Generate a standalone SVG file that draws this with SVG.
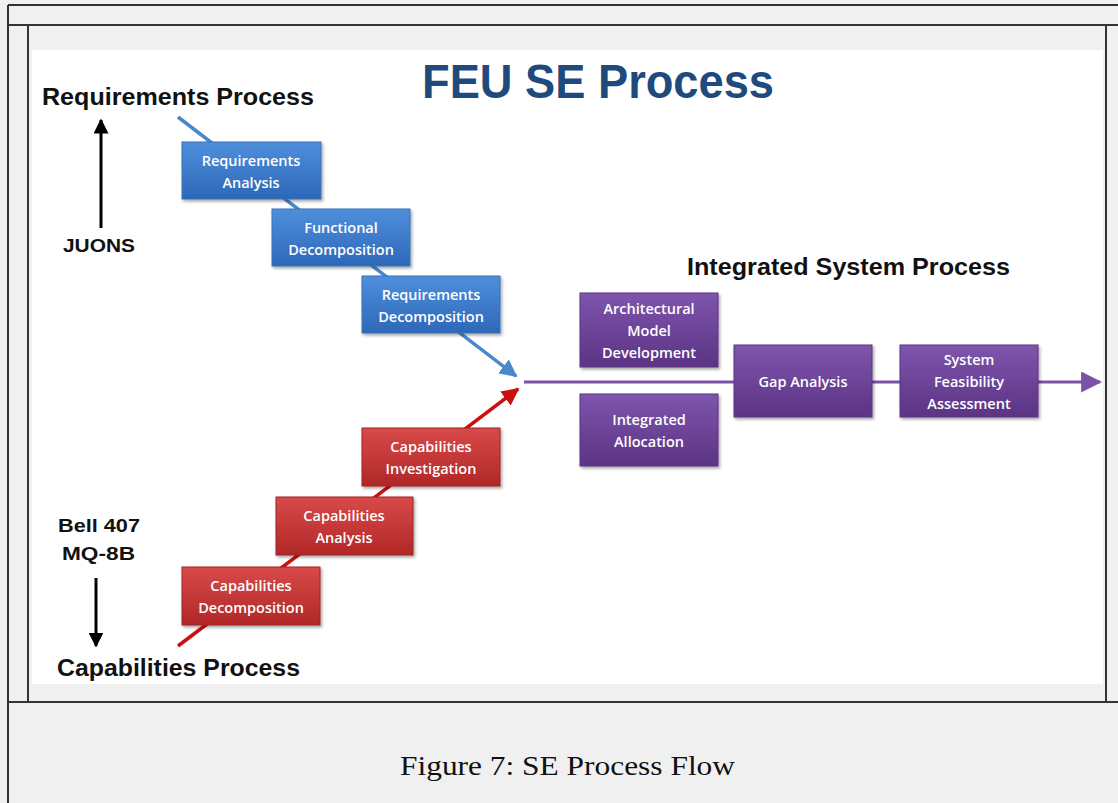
<svg xmlns="http://www.w3.org/2000/svg" width="1118" height="803" viewBox="0 0 1118 803">
<defs>
<linearGradient id="gBlue" x1="0" y1="0" x2="0" y2="1"><stop offset="0" stop-color="#4f8fdc"/><stop offset="1" stop-color="#2d68b8"/></linearGradient>
<linearGradient id="gRed" x1="0" y1="0" x2="0" y2="1"><stop offset="0" stop-color="#d94a4a"/><stop offset="1" stop-color="#b02727"/></linearGradient>
<linearGradient id="gPur" x1="0" y1="0" x2="0" y2="1"><stop offset="0" stop-color="#7e55ad"/><stop offset="1" stop-color="#5c3384"/></linearGradient>
<filter id="sh" x="-10%" y="-10%" width="125%" height="130%"><feDropShadow dx="1.5" dy="2" stdDeviation="1.5" flood-color="#000" flood-opacity="0.35"/></filter>
<marker id="mBlue" viewBox="0 0 10 10" refX="9" refY="5" markerWidth="5" markerHeight="5" orient="auto" markerUnits="strokeWidth"><path d="M0,0 L10,5 L0,10 z" fill="#4a88cc"/></marker>
<marker id="mRed" viewBox="0 0 10 10" refX="9" refY="5" markerWidth="5" markerHeight="5" orient="auto" markerUnits="strokeWidth"><path d="M0,0 L10,5 L0,10 z" fill="#cc1010"/></marker>
<marker id="mPur" viewBox="0 0 10 10" refX="9" refY="5" markerWidth="7" markerHeight="7" orient="auto" markerUnits="strokeWidth"><path d="M0,0 L10,5 L0,10 z" fill="#7a52a8"/></marker>
<marker id="mBlk" viewBox="0 0 10 10" refX="9" refY="5" markerWidth="5" markerHeight="5" orient="auto" markerUnits="strokeWidth"><path d="M0,0 L10,5 L0,10 z" fill="#000"/></marker>
</defs>
<style>
.frame{stroke:#333;stroke-width:2;fill:none}
.lbl{font-family:"Liberation Sans",Arial,sans-serif;font-weight:bold;fill:#111}
.box{stroke-width:1;filter:url(#sh)}
.bt{font-family:"Open Sans","Liberation Sans",sans-serif;font-size:14.5px;font-weight:600;fill:#fff;text-anchor:middle}
.cap{font-family:"Liberation Serif","Times New Roman",serif;font-size:28px;fill:#111}
</style>
<rect x="0" y="0" width="1118" height="803" fill="#f0f0f0"/>
<rect x="32" y="50" width="1071" height="634" fill="#ffffff"/>
<g id="frame">
<path class="frame" d="M8,5 H1118 M8,25 H1118 M8,5 V803 M28,25 V702 M1106,25 V702 M8,702 H1118"/>
</g>
<text x="598" y="98" font-family="Liberation Sans,Arial,sans-serif" font-weight="bold" font-size="48" fill="#1f4a7e" text-anchor="middle" textLength="352" lengthAdjust="spacingAndGlyphs">FEU SE Process</text>
<text class="lbl" x="42" y="105" font-size="23" textLength="272" lengthAdjust="spacingAndGlyphs">Requirements Process</text>
<text class="lbl" x="687" y="275" font-size="23" textLength="323" lengthAdjust="spacingAndGlyphs">Integrated System Process</text>
<text class="lbl" x="63" y="252" font-size="19" textLength="72" lengthAdjust="spacingAndGlyphs">JUONS</text>
<text class="lbl" x="58" y="532" font-size="19" textLength="82" lengthAdjust="spacingAndGlyphs">Bell 407</text>
<text class="lbl" x="62" y="560" font-size="19" textLength="73" lengthAdjust="spacingAndGlyphs">MQ-8B</text>
<text class="lbl" x="57" y="676" font-size="23" textLength="243" lengthAdjust="spacingAndGlyphs">Capabilities Process</text>
<g id="connectors">
<line x1="101" y1="228" x2="101" y2="120" stroke="#000" stroke-width="3" marker-end="url(#mBlk)"/>
<line x1="96" y1="578" x2="96" y2="646" stroke="#000" stroke-width="3" marker-end="url(#mBlk)"/>
<line x1="178" y1="117" x2="516" y2="376" stroke="#4a88cc" stroke-width="3.5" marker-end="url(#mBlue)"/>
<line x1="178" y1="646" x2="518" y2="389" stroke="#cc1010" stroke-width="3.5" marker-end="url(#mRed)"/>
<line x1="524" y1="382" x2="1100" y2="382" stroke="#7a52a8" stroke-width="3" marker-end="url(#mPur)"/>
</g>
<g id="n-req-analysis"><rect class="box" x="182" y="142" width="139" height="57" fill="url(#gBlue)" stroke="#3a70b8"/><text class="bt" x="251" y="166">Requirements</text><text class="bt" x="251" y="188">Analysis</text></g>
<g id="n-func-decomp"><rect class="box" x="272" y="209" width="138" height="57" fill="url(#gBlue)" stroke="#3a70b8"/><text class="bt" x="341" y="233">Functional</text><text class="bt" x="341" y="255">Decomposition</text></g>
<g id="n-req-decomp"><rect class="box" x="362" y="276" width="138" height="57" fill="url(#gBlue)" stroke="#3a70b8"/><text class="bt" x="431" y="300">Requirements</text><text class="bt" x="431" y="322">Decomposition</text></g>
<g id="n-cap-invest"><rect class="box" x="362" y="428" width="138" height="58" fill="url(#gRed)" stroke="#a02525"/><text class="bt" x="431" y="452">Capabilities</text><text class="bt" x="431" y="474">Investigation</text></g>
<g id="n-cap-analysis"><rect class="box" x="276" y="497" width="137" height="58" fill="url(#gRed)" stroke="#a02525"/><text class="bt" x="344" y="521">Capabilities</text><text class="bt" x="344" y="543">Analysis</text></g>
<g id="n-cap-decomp"><rect class="box" x="182" y="567" width="138" height="58" fill="url(#gRed)" stroke="#a02525"/><text class="bt" x="251" y="591">Capabilities</text><text class="bt" x="251" y="613">Decomposition</text></g>
<g id="n-arch"><rect class="box" x="580" y="293" width="138" height="74" fill="url(#gPur)" stroke="#5a3582"/><text class="bt" x="649" y="314">Architectural</text><text class="bt" x="649" y="336">Model</text><text class="bt" x="649" y="358">Development</text></g>
<g id="n-integ"><rect class="box" x="580" y="394" width="138" height="72" fill="url(#gPur)" stroke="#5a3582"/><text class="bt" x="649" y="425">Integrated</text><text class="bt" x="649" y="447">Allocation</text></g>
<g id="n-gap"><rect class="box" x="734" y="345" width="138" height="72" fill="url(#gPur)" stroke="#5a3582"/><text class="bt" x="803" y="387">Gap Analysis</text></g>
<g id="n-sfa"><rect class="box" x="900" y="345" width="138" height="72" fill="url(#gPur)" stroke="#5a3582"/><text class="bt" x="969" y="365">System</text><text class="bt" x="969" y="387">Feasibility</text><text class="bt" x="969" y="409">Assessment</text></g>
<text class="cap" x="400" y="775" textLength="335" lengthAdjust="spacingAndGlyphs">Figure 7: SE Process Flow</text>
</svg>
